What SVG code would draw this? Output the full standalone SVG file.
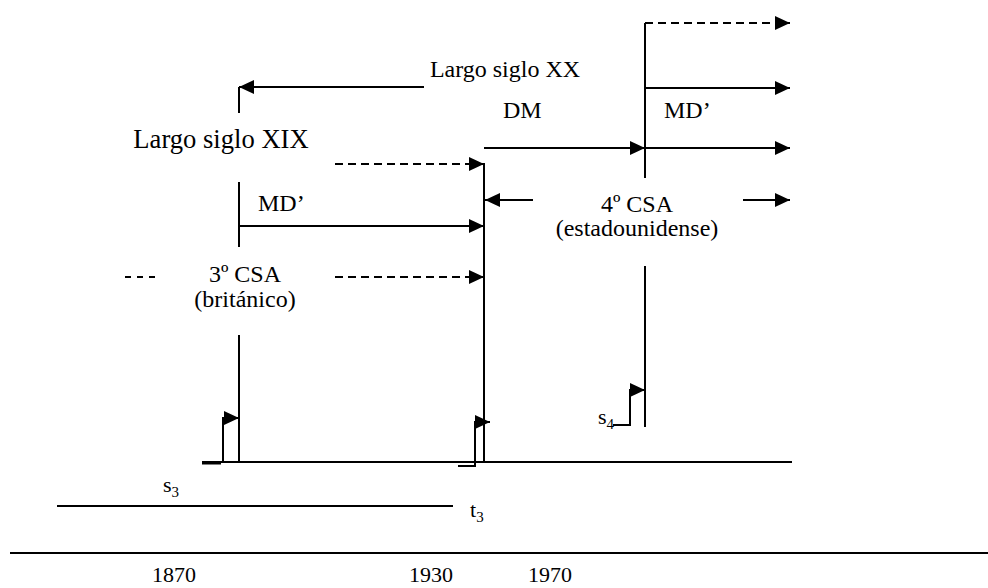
<svg xmlns="http://www.w3.org/2000/svg" width="988" height="588" viewBox="0 0 988 588">
<defs>
<marker id="ah" markerWidth="15" markerHeight="14" refX="15" refY="7" orient="auto" markerUnits="userSpaceOnUse">
<path d="M0,0 L15,7 L0,14 Z" fill="#000"/>
</marker>
<style>
.t{font-size:24px}
.y{font-size:22px}
.ln{stroke:#000;stroke-width:2;fill:none}
.ar{stroke:#000;stroke-width:2;fill:none;marker-end:url(#ah)}
.da{stroke:#000;stroke-width:2;fill:none;stroke-dasharray:8 5;marker-end:url(#ah)}
</style>
</defs>
<rect width="988" height="588" fill="#fff"/>
<g id="connectors">
<line class="ln" x1="239" y1="87" x2="239" y2="113"/>
<line class="ln" x1="239" y1="182" x2="239" y2="247"/>
<line class="ln" x1="239" y1="335" x2="239" y2="462"/>
<line class="ar" x1="424" y1="87" x2="239" y2="87"/>
<line class="da" x1="335" y1="164" x2="484" y2="164"/>
<line class="ar" x1="239" y1="226" x2="484" y2="226"/>
<line class="da" x1="335" y1="277" x2="484" y2="277"/>
<line class="ln" x1="125" y1="277" x2="157" y2="277" stroke-dasharray="6 6"/>
<line class="ln" x1="484" y1="163" x2="484" y2="462"/>
<line class="ar" x1="484" y1="148" x2="645" y2="148"/>
<line class="ln" x1="645" y1="23" x2="645" y2="178"/>
<line class="ln" x1="645" y1="266" x2="645" y2="427"/>
<line class="da" x1="645" y1="23" x2="790" y2="23"/>
<line class="ar" x1="645" y1="88" x2="790" y2="88"/>
<line class="ar" x1="645" y1="148" x2="790" y2="148"/>
<line class="ar" x1="533" y1="200" x2="485" y2="200"/>
<line class="ar" x1="743" y1="200" x2="790" y2="200"/>
<polyline class="ar" points="202,462 223,462 223,418 239,418"/>
<line class="ln" x1="202" y1="463.5" x2="221" y2="463.5"/>
<polyline class="ar" points="458,466 475,466 475,422 490,422"/>
<polyline class="ar" points="613,425 630,425 630,390 645,390"/>
<line class="ln" x1="202" y1="462" x2="792" y2="462"/>
<line class="ln" x1="57" y1="506" x2="453" y2="506"/>
<line class="ln" x1="10" y1="553" x2="988" y2="553"/>
</g>
<g font-family="'Liberation Serif', serif" fill="#000">
<g id="label-largo-xx"><text class="t" x="505" y="77" text-anchor="middle" font-size="24.6">Largo siglo XX</text></g>
<g id="label-largo-xix"><text class="t" x="221" y="148" text-anchor="middle" style="font-size:26.6px">Largo siglo XIX</text></g>
<g id="label-dm"><text class="t" x="503" y="118">DM</text></g>
<g id="label-md-right"><text class="t" x="664" y="118">MD’</text></g>
<g id="label-md-left"><text class="t" x="258" y="211">MD’</text></g>
<g id="node-4csa"><text class="t" x="637" y="212" text-anchor="middle">4º CSA</text><text class="t" x="637" y="236" text-anchor="middle">(estadounidense)</text></g>
<g id="node-3csa"><text class="t" x="245" y="282" text-anchor="middle">3º CSA</text><text class="t" x="245" y="307" text-anchor="middle">(británico)</text></g>
<g id="label-s4"><text class="y" x="598" y="424">s<tspan font-size="15" dy="5">4</tspan></text></g>
<g id="label-s3"><text class="y" x="163" y="492">s<tspan font-size="15" dy="5">3</tspan></text></g>
<g id="label-t3"><text class="y" x="470" y="517">t<tspan font-size="15" dy="5">3</tspan></text></g>
<g id="years">
<text class="y" x="174" y="582" text-anchor="middle">1870</text>
<text class="y" x="431" y="582" text-anchor="middle">1930</text>
<text class="y" x="550" y="582" text-anchor="middle">1970</text>
</g>
</g>
</svg>
